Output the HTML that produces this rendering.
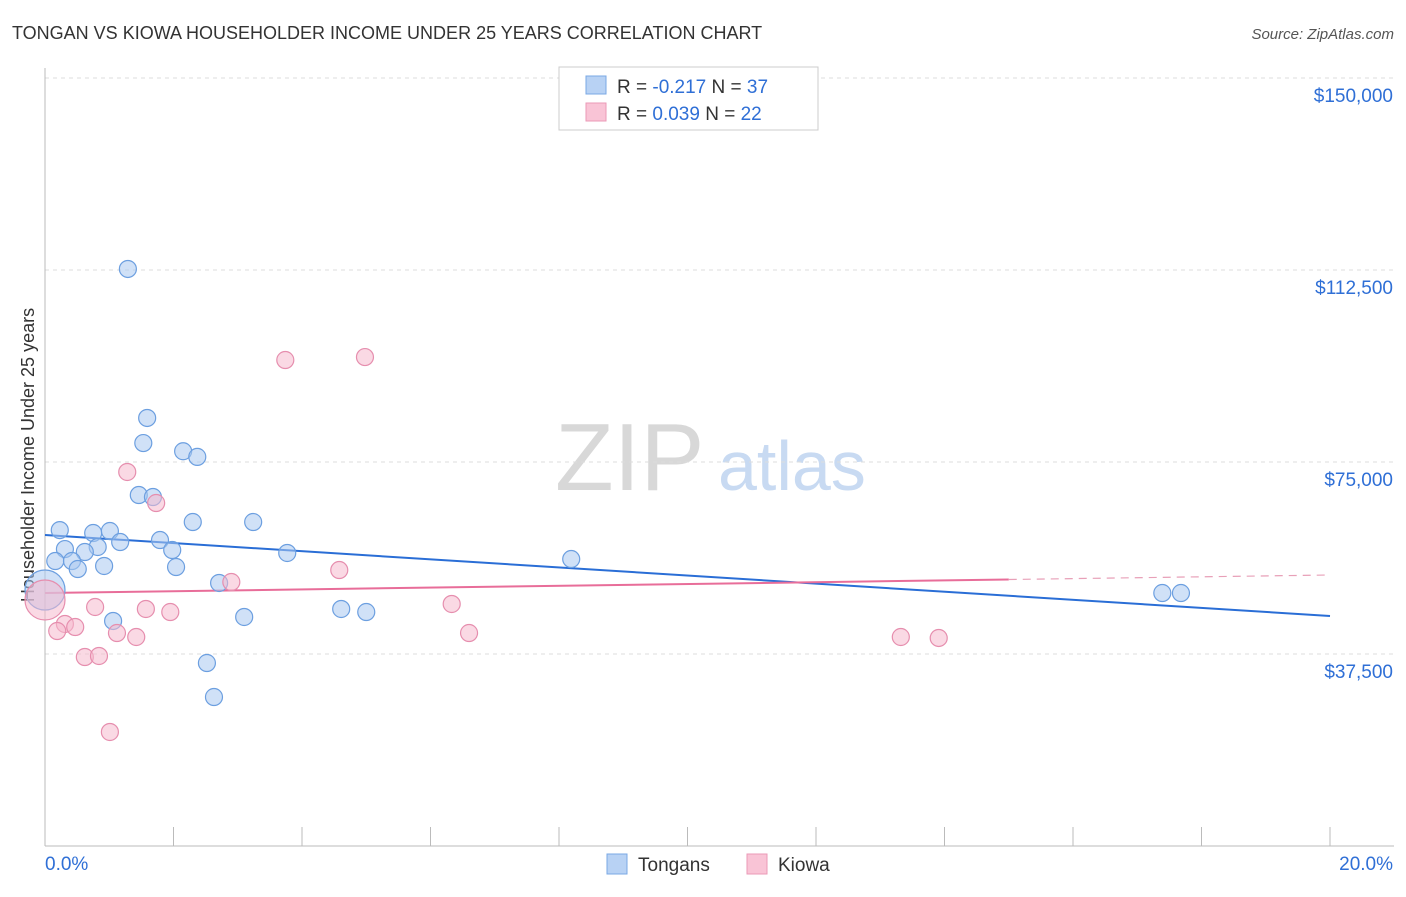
<!DOCTYPE html>
<html><head><meta charset="utf-8"><style>
body{margin:0;background:#fff;font-family:"Liberation Sans",sans-serif}
svg text{font-family:"Liberation Sans",sans-serif}
</style></head><body>
<svg width="1406" height="892" viewBox="0 0 1406 892" xmlns="http://www.w3.org/2000/svg">
<text x="12" y="39" font-size="18" fill="#333">TONGAN VS KIOWA HOUSEHOLDER INCOME UNDER 25 YEARS CORRELATION CHART</text>
<text x="1394" y="39" font-size="15" fill="#555" font-style="italic" text-anchor="end">Source: ZipAtlas.com</text>
<g>
<text x="555" y="490" font-size="96" fill="#d8d8d8" font-family="Liberation Serif">ZIP</text>
<text x="718" y="490" font-size="70" fill="#c8daf2">atlas</text>
</g>
<g id="grid"></g>
<g id="axes"></g>
<text transform="translate(34,455) rotate(-90)" font-size="18" fill="#333" text-anchor="middle">Householder Income Under 25 years</text>
<g id="trend"></g>
<g id="pts"></g>
<g>
<rect x="559" y="67" width="259" height="63" fill="#fff" stroke="#ccc"/>
<rect x="586" y="76" width="20" height="18" fill="#b8d2f4" stroke="#7aa8e4"/>
<rect x="586" y="103" width="20" height="18" fill="#f9c4d6" stroke="#eb9ab7"/>
<text x="617" y="93" font-size="19" fill="#333">R = <tspan fill="#2f6fd6">-0.217</tspan>   N = <tspan fill="#2f6fd6">37</tspan></text>
<text x="617" y="120" font-size="19" fill="#333">R =  <tspan fill="#2f6fd6">0.039</tspan>   N = <tspan fill="#2f6fd6">22</tspan></text>
</g>
<g>
<rect x="607" y="854" width="20" height="20" fill="#b8d2f4" stroke="#7aa8e4"/>
<text x="638" y="871" font-size="19" fill="#333">Tongans</text>
<rect x="747" y="854" width="20" height="20" fill="#f9c4d6" stroke="#eb9ab7"/>
<text x="778" y="871" font-size="19" fill="#333">Kiowa</text>
</g>
</svg>
<script>
const yTicks=[37500,75000,112500,150000];
const yTickLabels=["$37,500","$75,000","$112,500","$150,000"];
const xTicks=[0,2,4,6,8,10,12,14,16,18,20];
const tonganX=[1.29,1.59,1.53,2.15,2.37,1.46,1.68,2.30,3.24,0.23,0.75,1.01,1.17,1.79,0.31,0.82,0.62,1.98,3.77,0.16,0.42,0.51,0.92,2.04,8.19,2.71,0.0,4.61,5.00,3.10,1.06,2.52,2.63,17.39,17.68];
const tonganY=[112700,83600,78700,77100,76000,68550,68160,63280,63280,61700,61130,61520,59370,59760,58000,58400,57420,57810,57230,55660,55660,54100,54690,54490,56050,51370,50000,46290,45700,44730,43950,35740,29100,49410,49410];
const tonganBig=[26];
const kiowaX=[3.74,4.98,1.28,1.73,2.90,4.58,0.0,0.78,1.57,1.95,6.33,0.31,0.47,0.19,1.12,1.42,6.60,13.32,13.91,0.62,0.84,1.01];
const kiowaY=[94920,95500,73050,66990,51560,53900,48050,46680,46290,45700,47270,43360,42770,41990,41600,40820,41600,40820,40630,36910,37110,22270];
const kiowaBig=[6];
const tonganTrend=[60740,44920];
const kiowaTrend=[49410,52930];
const kiowaSolidEnd=15;
const NS="http://www.w3.org/2000/svg";
const X=v=>45+v/20*1285, Y=v=>846-v/37500*192;
function mk(tag,attrs,parent){const e=document.createElementNS(NS,tag);for(const k in attrs)e.setAttribute(k,attrs[k]);parent.appendChild(e);return e;}
const grid=document.getElementById('grid'),axes=document.getElementById('axes');
yTicks.forEach((t,i)=>{
 const l=mk('line',{x1:45,x2:1394,y1:Y(t),y2:Y(t),stroke:'#ddd','stroke-dasharray':'4,4'},grid);
 
 
 const tx=mk('text',{x:1393,y:Y(t)+24,'font-size':19,fill:'#2f6fd6','text-anchor':'end'},axes);
 tx.textContent=yTickLabels[i];
 
 
});
const la=mk('line',{x1:45,x2:45,y1:68,y2:846,stroke:'#bbb'},axes);


const lb=mk('line',{x1:45,x2:1394,y1:846,y2:846,stroke:'#bbb'},axes);


xTicks.forEach(t=>{
 const l=mk('line',{x1:X(t),x2:X(t),y1:827,y2:846,stroke:'#bbb'},axes);
 
 
});
const x0=mk('text',{x:45,y:870,'font-size':19,fill:'#2f6fd6'},axes);x0.textContent='0.0%';


const x1=mk('text',{x:1393,y:870,'font-size':19,fill:'#2f6fd6','text-anchor':'end'},axes);x1.textContent='20.0%';


const pts=document.getElementById('pts');
function draw(xs,ys,big,fill,stroke,name){xs.forEach((x,i)=>{
 const c=mk('circle',{cx:X(x),cy:Y(ys[i]),r:big.includes(i)?20:8.5,fill:fill,'fill-opacity':0.55,stroke:stroke,'stroke-width':1.2},pts);
 
 
});}
draw(tonganX,tonganY,tonganBig,'#a9c9f1','#6c9fe0','tongan-point');
draw(kiowaX,kiowaY,kiowaBig,'#f6b9cd','#e68eae','kiowa-point');
const tr=document.getElementById('trend');
const t1=mk('line',{x1:X(0),y1:Y(tonganTrend[0]),x2:X(20),y2:Y(tonganTrend[1]),stroke:'#2a6ed6','stroke-width':2},tr);


const kAt=v=>kiowaTrend[0]+(kiowaTrend[1]-kiowaTrend[0])*v/20;
const t2=mk('line',{x1:X(0),y1:Y(kAt(0)),x2:X(kiowaSolidEnd),y2:Y(kAt(kiowaSolidEnd)),stroke:'#e86d99','stroke-width':2},tr);


const t3=mk('line',{x1:X(kiowaSolidEnd),y1:Y(kAt(kiowaSolidEnd)),x2:X(20),y2:Y(kAt(20)),stroke:'#e8a0b8','stroke-width':1.2,'stroke-dasharray':'8,6'},tr);


</script>
</body></html>
